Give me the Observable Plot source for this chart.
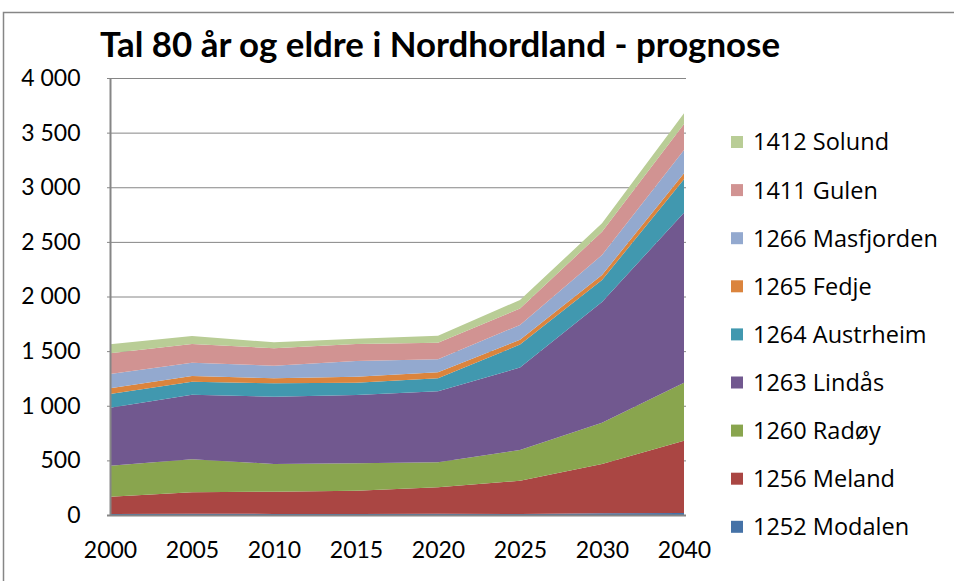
<!DOCTYPE html>
<html>
<head>
<meta charset="utf-8">
<script src="https://cdn.jsdelivr.net/npm/d3@7"></script>
<script src="https://cdn.jsdelivr.net/npm/@observablehq/plot@0.6"></script>
<style>
  html, body { margin: 0; padding: 0; background: #fff; }
  svg { display: block; }
</style>
</head>
<body>
<div id="chart"></div>
<script>
const titleText = "Tal 80 år og eldre i Nordhordland - prognose";
const years = ["2000", "2005", "2010", "2015", "2020", "2025", "2030", "2040"];
const seriesNames = ["1252 Modalen", "1256 Meland", "1260 Radøy", "1263 Lindås", "1264 Austrheim", "1265 Fedje", "1266 Masfjorden", "1411 Gulen", "1412 Solund"];
const colors = ["#4572A7", "#AA4643", "#89A54E", "#71588F", "#4198AF", "#DB843D", "#93A9CF", "#D19392", "#B9CD96"];
const yTicks = [0, 500, 1000, 1500, 2000, 2500, 3000, 3500, 4000];

const modalen    = [10, 12, 10, 10, 12, 10, 16, 18];
const meland     = [158, 196, 203, 212, 242, 304, 451, 662];
const radoy      = [283, 302, 254, 251, 229, 281, 378, 531];
const lindas     = [531, 591, 616, 625, 649, 755, 1105, 1556];
const austrheim  = [126, 119, 122, 113, 119, 210, 201, 306];
const fedje      = [52, 52, 46, 55, 55, 45, 46, 55];
const masfjorden = [131, 122, 116, 144, 119, 135, 183, 213];
const gulen      = [189, 171, 159, 155, 152, 150, 213, 238];
const solund     = [82, 73, 55, 49, 64, 78, 77, 98];

const seriesValues = [modalen, meland, radoy, lindas, austrheim, fedje, masfjorden, gulen, solund];
const data = [];
seriesNames.forEach((s, i) => {
  years.forEach((y, j) => data.push({series: s, year: y, value: seriesValues[i][j]}));
});

const W = 954, H = 581;
const fmt = d => d3.format(",")(d).replace(/,/g, " ");

const chart = Plot.plot({
  width: W,
  height: H,
  marginLeft: 107,
  marginRight: 268,
  marginTop: 78,
  marginBottom: 66,
  style: {color: "#000", background: "#fff"},
  x: {type: "point", domain: years, padding: 0},
  y: {domain: [0, 4000]},
  color: {domain: seriesNames, range: colors},
  marks: [
    Plot.gridY(yTicks, {stroke: "#868686", strokeOpacity: 1, strokeWidth: 1}),
    Plot.areaY(data, {x: "year", y: "value", fill: "series", order: seriesNames}),
    Plot.ruleY([0], {stroke: "#868686", strokeWidth: 2}),
    Plot.ruleX([years[0]], {stroke: "#868686", strokeWidth: 2}),
    Plot.axisY({ticks: yTicks, tickSize: 0, tickPadding: 27, tickFormat: fmt, label: null,
                fontSize: 23, fontFamily: "Lato", fill: "#000"}),
    Plot.axisX({tickSize: 0, tickPadding: 26, label: null,
                fontSize: 23, fontFamily: "Lato", fill: "#000"})
  ]
});

const svg = d3.select(chart);
// outer chart border
svg.append("rect")
  .attr("x", 3.5).attr("y", 12.5).attr("width", 1000).attr("height", 575)
  .attr("fill", "none").attr("stroke", "#868686").attr("stroke-width", 1.5);

// title
svg.append("text")
  .attr("x", 100).attr("y", 57)
  .attr("text-anchor", "start")
  .attr("font-family", "Lato")
  .attr("font-weight", "bold")
  .attr("font-size", 34)
  .attr("textLength", 680)
  .attr("lengthAdjust", "spacingAndGlyphs")
  .attr("fill", "#000")
  .text(titleText);

// legend (top entry is last series)
const legendOrder = seriesNames.map((s, i) => i).reverse();
legendOrder.forEach((idx, row) => {
  const cy = 142 + row * 48.1;
  svg.append("rect")
    .attr("x", 731).attr("y", cy - 6).attr("width", 12).attr("height", 12)
    .attr("fill", colors[idx]);
  svg.append("text")
    .attr("x", 753).attr("y", cy)
    .attr("dy", "0.36em")
    .attr("text-anchor", "start")
    .attr("font-family", "Open Sans")
    .attr("font-size", 23.5)
    .attr("fill", "#000")
    .text(seriesNames[idx]);
});

document.getElementById("chart").appendChild(chart);
</script>
</body>
</html>
